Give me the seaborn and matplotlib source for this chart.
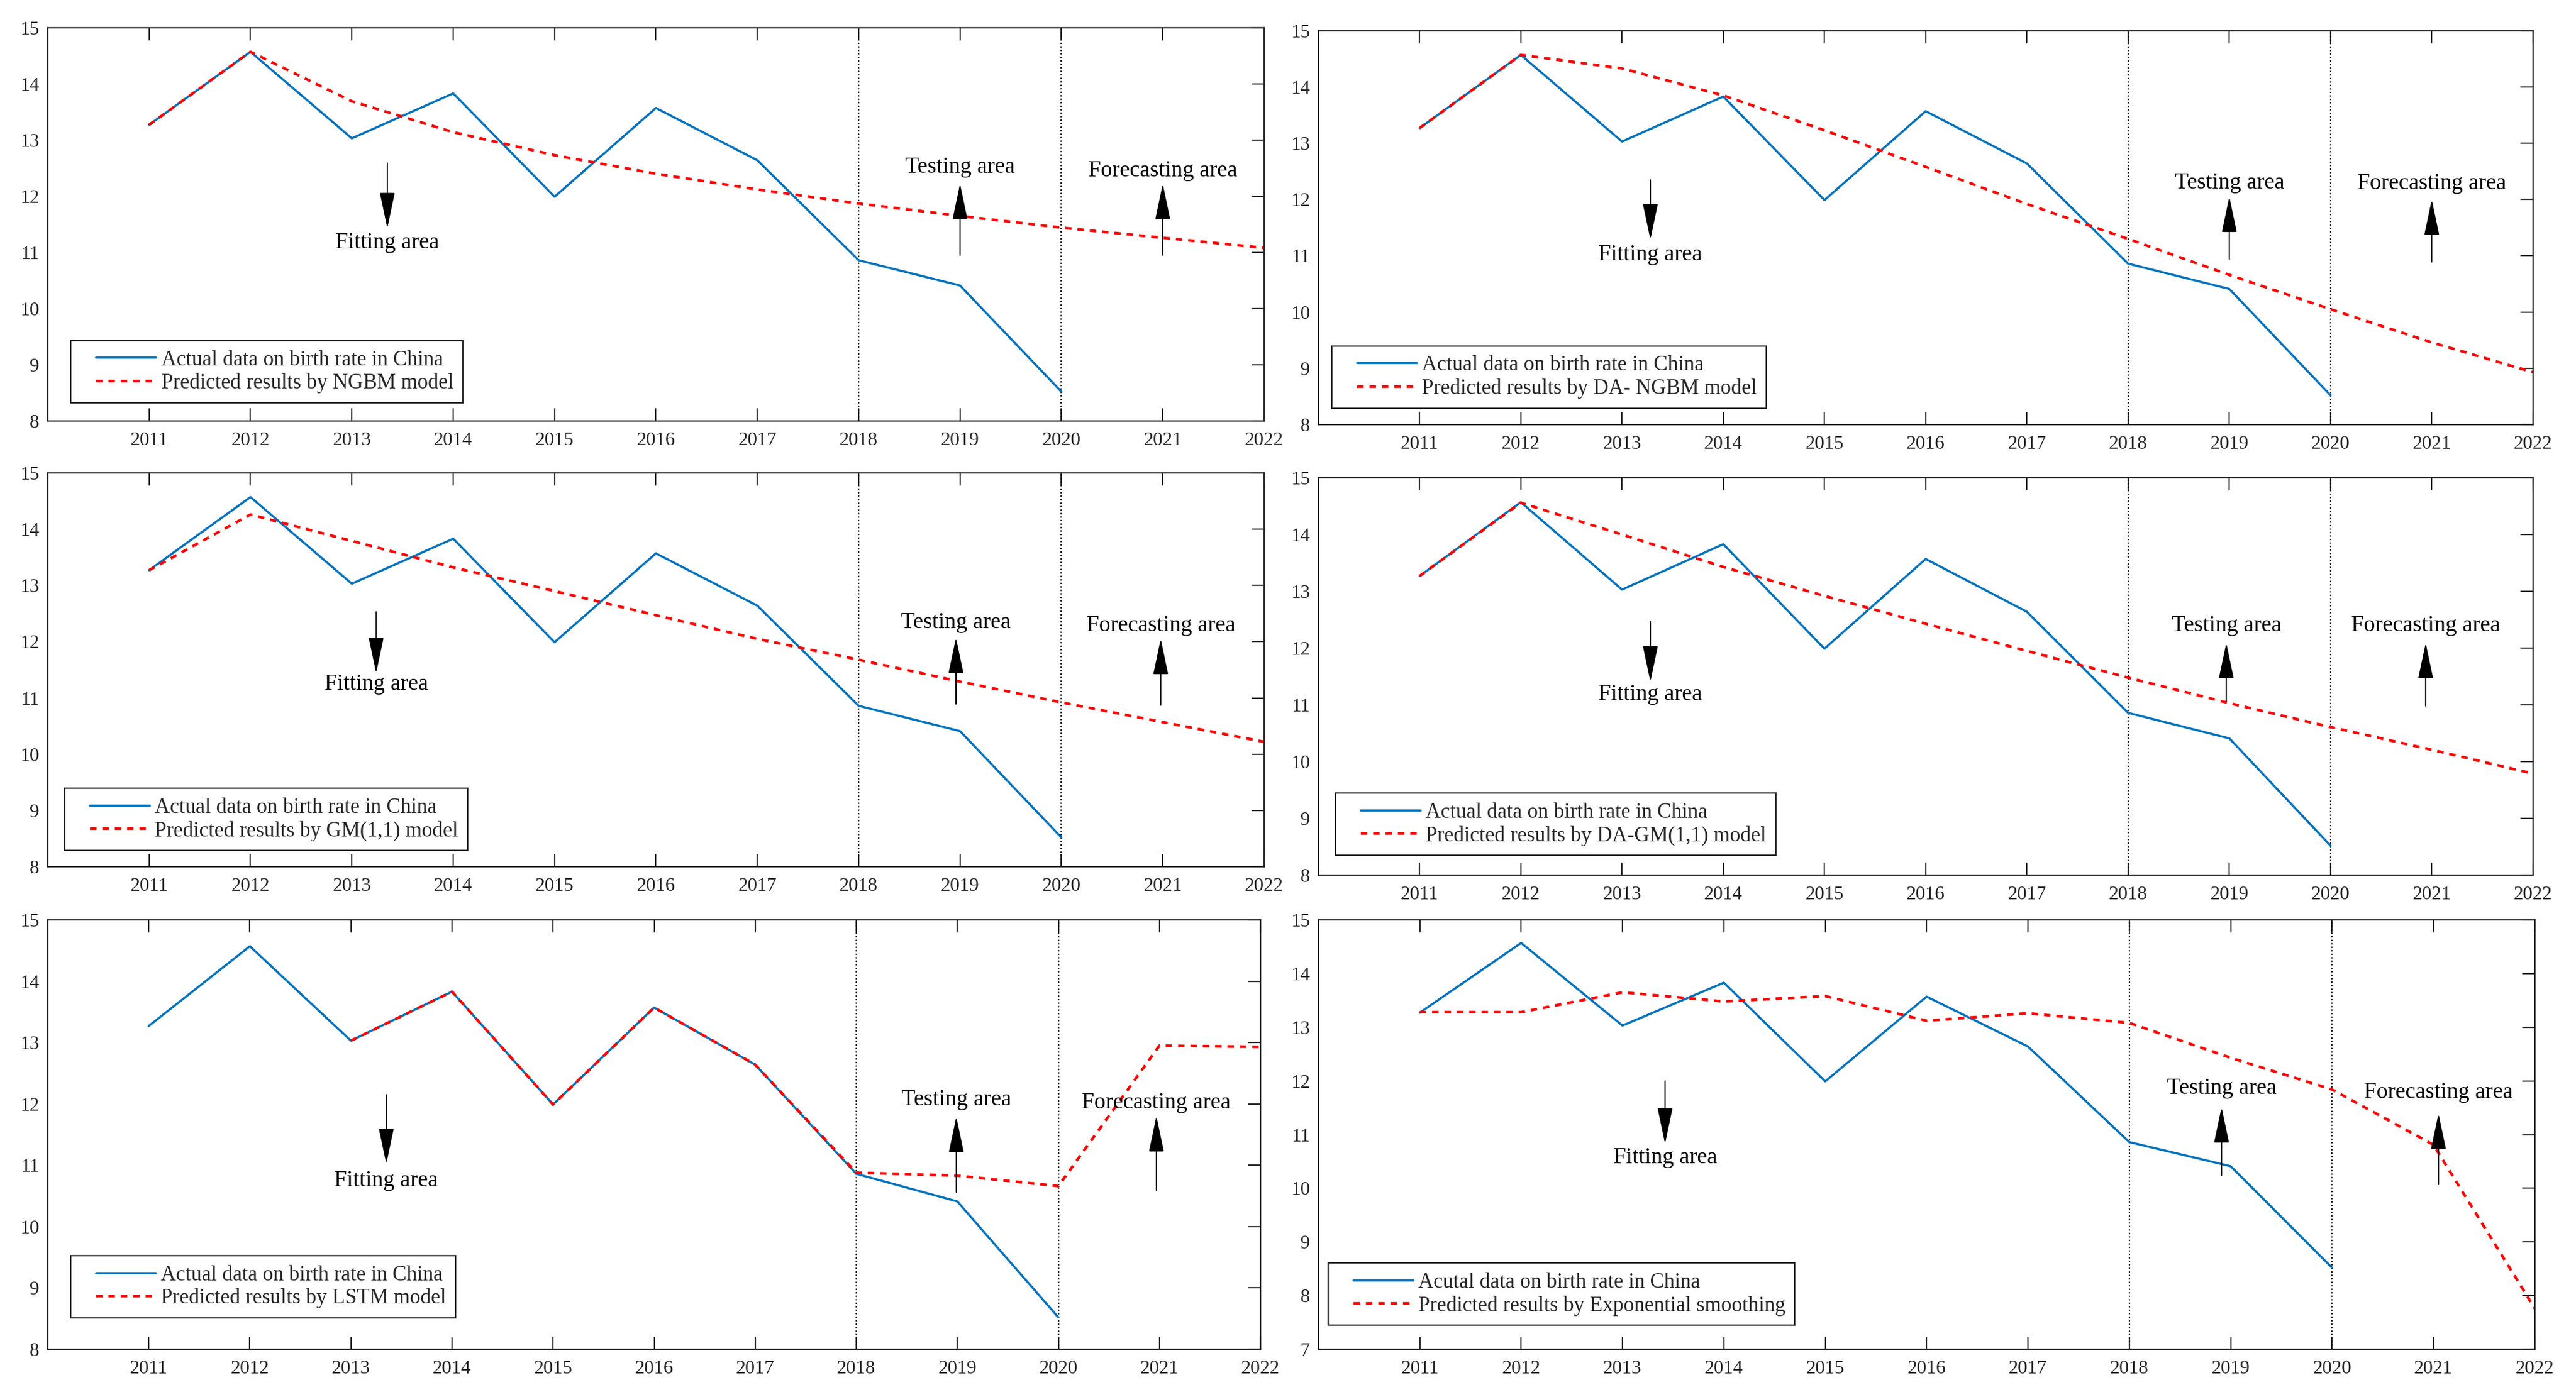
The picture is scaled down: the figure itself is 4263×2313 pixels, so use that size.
import matplotlib
matplotlib.use('Agg')
import matplotlib.pyplot as plt
from matplotlib.lines import Line2D
from matplotlib.legend_handler import HandlerLine2D
import seaborn as sns

# данные: рождаемость в Китае и прогнозы моделей
years = [2011, 2012, 2013, 2014, 2015, 2016, 2017, 2018, 2019, 2020, 2021, 2022]
actual_years = years[:10]
actual_rate = [13.27, 14.57, 13.03, 13.83, 11.99, 13.57, 12.64, 10.86, 10.41, 8.52]

ngbm = [13.27, 14.57, 13.69, 13.14, 12.73, 12.40, 12.12, 11.87, 11.65, 11.44, 11.26, 11.08]
da_ngbm = [13.27, 14.57, 14.33, 13.85, 13.23, 12.58, 11.92, 11.30, 10.66, 10.05, 9.46, 8.93]
gm11 = [13.27, 14.26, 13.79, 13.32, 12.90, 12.47, 12.05, 11.68, 11.29, 10.92, 10.57, 10.22]
da_gm11 = [13.27, 14.56, 14.00, 13.43, 12.92, 12.43, 11.95, 11.48, 11.03, 10.61, 10.21, 9.79]
lstm_years = years[2:]
lstm = [13.03, 13.83, 11.99, 13.57, 12.64, 10.88, 10.83, 10.66, 12.95, 12.93]
exp_smooth = [13.28, 13.28, 13.65, 13.48, 13.58, 13.12, 13.26, 13.08, 12.43, 11.84, 10.81, 7.76]

actual_label = 'Actual data on birth rate in China'
actual_label_es = 'Acutal data on birth rate in China'
model_labels = ['Predicted results by NGBM model',
                'Predicted results by DA- NGBM model',
                'Predicted results by GM(1,1) model',
                'Predicted results by DA-GM(1,1) model',
                'Predicted results by LSTM model',
                'Predicted results by Exponential smoothing']

BLUE = '#0072BD'
RED = '#FF0000'
DARK = '#262626'

sns.set_theme(style='ticks')
plt.rcParams['font.family'] = ['Liberation Serif', 'DejaVu Serif']

panels = [
    dict(rect=[0.01853, 0.6987, 0.4722, 0.2815], x=years, y=ngbm, ylim=(8, 15),
         leg=(0.019, 0.046), act=actual_label,
         fit=(2013.35, 12.59, 11.43, 11.17), test=(2019.0, 10.95, 12.22, 12.52),
         fore=(2021.0, 10.95, 12.22, 12.45)),
    dict(rect=[0.5118, 0.6961, 0.4715, 0.2819], x=years, y=da_ngbm, ylim=(8, 15),
         leg=(0.011, 0.042), act=actual_label,
         fit=(2013.28, 12.35, 11.29, 11.02), test=(2019.0, 10.94, 12.05, 12.30),
         fore=(2021.0, 10.89, 12.00, 12.28)),
    dict(rect=[0.01853, 0.3796, 0.4722, 0.2819], x=years, y=gm11, ylim=(8, 15),
         leg=(0.014, 0.041), act=actual_label,
         fit=(2013.24, 12.53, 11.44, 11.24), test=(2018.96, 10.89, 12.07, 12.34),
         fore=(2020.98, 10.87, 12.05, 12.29)),
    dict(rect=[0.5118, 0.3735, 0.4715, 0.2845], x=years, y=da_gm11, ylim=(8, 15),
         leg=(0.014, 0.05), act=actual_label,
         fit=(2013.28, 12.47, 11.41, 11.18), test=(2018.97, 11.06, 12.09, 12.40),
         fore=(2020.94, 10.98, 12.09, 12.40)),
    dict(rect=[0.01853, 0.03415, 0.4708, 0.3074], x=lstm_years, y=lstm, ylim=(8, 15),
         leg=(0.019, 0.073), act=actual_label,
         fit=(2013.35, 12.15, 11.02, 10.75), test=(2018.99, 10.56, 11.79, 12.07),
         fore=(2020.97, 10.59, 11.80, 12.02)),
    dict(rect=[0.5118, 0.03415, 0.4722, 0.3074], x=years, y=exp_smooth, ylim=(7, 15),
         leg=(0.008, 0.056), act=actual_label_es,
         fit=(2013.42, 12.00, 10.83, 10.57), test=(2018.91, 10.24, 11.51, 11.86),
         fore=(2021.05, 10.07, 11.39, 11.78)),
]

fig = plt.figure(figsize=(42.63, 23.13), dpi=100)

for p, lab in zip(panels, model_labels):
    ax = fig.add_axes(p['rect'])
    sns.lineplot(x=actual_years, y=actual_rate, ax=ax, color=BLUE, linewidth=2.6,
                 label=p['act'])
    sns.lineplot(x=p['x'], y=p['y'], ax=ax, color=RED, linewidth=3.2,
                 linestyle=(0, (2.4, 2.2)), label=lab)

    # границы областей
    ax.axvline(2018, color='black', lw=1.6, ls=(0, (1, 1.6)), zorder=1)
    ax.axvline(2020, color='black', lw=1.6, ls=(0, (1, 1.6)), zorder=1)

    ax.set_xlim(2010, 2022)
    ax.set_ylim(*p['ylim'])
    ax.set_xticks(years)
    ax.set_yticks(range(p['ylim'][0], p['ylim'][1] + 1))
    ax.set_xlabel('')
    ax.set_ylabel('')

    for s in ax.spines.values():
        s.set_visible(True)
        s.set_linewidth(1.7)
        s.set_color(DARK)
    ax.tick_params(axis='x', direction='in', top=True, bottom=True, length=15,
                   width=1.6, color=DARK, labelsize=23, labelcolor=DARK, pad=13)
    ax.tick_params(axis='y', direction='in', left=False, right=True, length=15,
                   width=1.6, color=DARK, labelsize=23, labelcolor=DARK, pad=10)

    # стрелки и подписи областей
    arrow = dict(arrowstyle='-|>,head_length=0.95,head_width=0.2', color='black',
                 lw=1.4, shrinkA=0, shrinkB=0, mutation_scale=40)
    fx, ft, fh, fy = p['fit']
    ax.annotate('', xy=(fx, fh), xytext=(fx, ft), arrowprops=arrow)
    ax.text(fx, fy, 'Fitting area', ha='center', va='center', fontsize=27, color='black')
    tx, tt, th, ty = p['test']
    ax.annotate('', xy=(tx, th), xytext=(tx, tt), arrowprops=arrow)
    ax.text(tx, ty, 'Testing area', ha='center', va='center', fontsize=27, color='black')
    ox, ot, oh, oy = p['fore']
    ax.annotate('', xy=(ox, oh), xytext=(ox, ot), arrowprops=arrow)
    ax.text(ox, oy, 'Forecasting area', ha='center', va='center', fontsize=27, color='black')

    leg = ax.legend(loc='lower left', bbox_to_anchor=p['leg'], fontsize=25, frameon=True,
                    fancybox=False, edgecolor=DARK, framealpha=1, borderpad=0.45,
                    labelspacing=0.15, handlelength=3.6, handletextpad=0.25,
                    borderaxespad=0, handler_map={Line2D: HandlerLine2D(xpad=0.75)})
    leg.get_frame().set_linewidth(1.7)

fig.savefig('out.png', dpi=100)
